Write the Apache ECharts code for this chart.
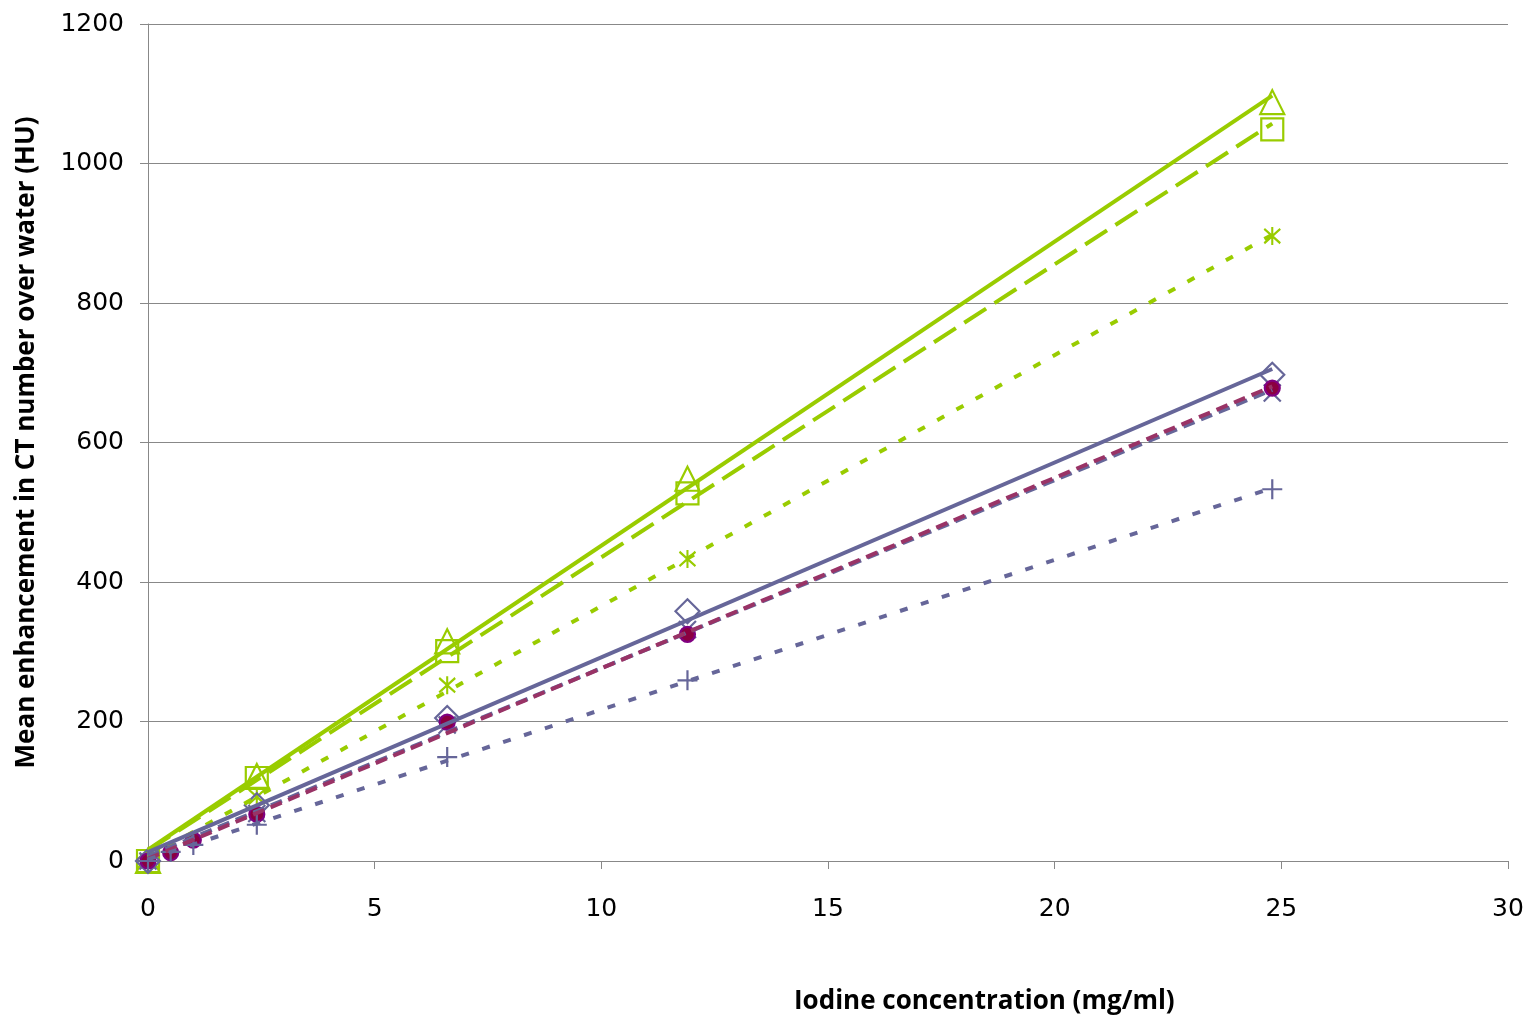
<!DOCTYPE html>
<html>
<head>
<meta charset="utf-8">
<script src="https://cdn.jsdelivr.net/npm/echarts@6/dist/echarts.min.js"></script>
<style>
html,body{margin:0;padding:0;background:#fff;}
#chart{width:1528px;height:1024px;}
</style>
</head>
<body>
<div id="chart"></div>
<script>
// Iodine concentrations (mg/ml)
const conc = [0, 2.4, 6.6, 11.9, 24.8];
const concFine = [0, 0.5, 1, 2.4, 6.6, 11.9, 24.8];
// Green series
const triangleVals = [0, 122, 315, 548, 1088];
const squareVals = [0, 119, 301, 527, 1049];
const asteriskVals = [0, 92, 252, 433, 896];
// Purple / maroon series
const diamondVals = [0, 80, 205, 358, 697];
const crossVals = [0, 68, 195, 332, 671];
const circleVals = [0, 12, 30, 67, 199, 325, 678];
const plusVals = [0, 13, 23, 52, 149, 259, 533];

const xTicks = [0, 5, 10, 15, 20, 25, 30];
const yTicks = [0, 200, 400, 600, 800, 1000, 1200];

const GREEN = '#99CC00';
const PURPLE = '#666699';
const MAROON = '#993366';

function fit(xs, ys) {
  const n = xs.length;
  let sx = 0, sy = 0, sxx = 0, sxy = 0;
  for (let i = 0; i < n; i++) { sx += xs[i]; sy += ys[i]; sxx += xs[i] * xs[i]; sxy += xs[i] * ys[i]; }
  const a = (n * sxy - sx * sy) / (n * sxx - sx * sx);
  const b = (sy - a * sx) / n;
  const x0 = Math.min(...xs), x1 = Math.max(...xs);
  return [[x0, a * x0 + b], [x1, a * x1 + b]];
}
function pts(xs, ys) { return xs.map((x, i) => [x, ys[i]]); }

const P_AST = 'path://M0,-10L0,10M-8,-8L8,8M-8,8L8,-8';
const P_X = 'path://M-10,-10L10,10M-10,10L10,-10';
const P_PLUS = 'path://M-10,0L10,0M0,-10L0,10';

function markers(name, xs, ys, symbol, size, color, fill) {
  return {
    name, type: 'scatter', data: pts(xs, ys), symbol, symbolSize: size, z: 3,
    itemStyle: { color: fill || 'transparent', borderColor: color, borderWidth: 2.2, opacity: 1 }
  };
}
function trend(name, xs, ys, color, dash) {
  return {
    name: name + ' trend', type: 'line', data: fit(xs, ys), showSymbol: false, z: 4,
    lineStyle: { color, width: 4, type: dash, cap: 'butt' }, silent: true
  };
}

const chart = echarts.init(document.getElementById('chart'));
chart.setOption({
  animation: false,
  backgroundColor: '#fff',
  grid: { left: 148, right: 20, top: 24, bottom: 163 },
  xAxis: {
    type: 'value', min: 0, max: 30, interval: 5,
    axisLine: { show: true, onZero: false, lineStyle: { color: '#888', width: 1 } },
    axisTick: { show: true, inside: false, length: 8, lineStyle: { color: '#888' } },
    splitLine: { show: false },
    axisLabel: { margin: 36, fontSize: 25, color: '#000', fontFamily: 'DejaVu Sans',
      formatter: v => xTicks.includes(v) ? String(v) : '' }
  },
  yAxis: {
    type: 'value', min: 0, max: 1200, interval: 200,
    name: 'Mean enhancement in CT number over water (HU)',
    nameLocation: 'middle', nameGap: 108,
    nameTextStyle: { fontSize: 26, fontWeight: 'bold', color: '#000', fontFamily: 'Open Sans' },
    axisLine: { show: true, lineStyle: { color: '#888', width: 1 } },
    axisTick: { show: true, inside: false, length: 8, lineStyle: { color: '#888' } },
    splitLine: { show: true, lineStyle: { color: '#888', width: 1 } },
    axisLabel: { margin: 24, fontSize: 25, color: '#000', fontFamily: 'DejaVu Sans',
      formatter: v => yTicks.includes(v) ? String(v) : '' }
  },
  graphic: [{
    type: 'text', left: 794, top: 989,
    style: { text: 'Iodine concentration (mg/ml)', fontSize: 26, fontWeight: 'bold',
      fill: '#000', fontFamily: 'Open Sans' }
  }],
  series: [
    markers('Triangle', conc, triangleVals, 'triangle', [24, 24], GREEN),
    markers('Square', conc, squareVals, 'rect', [22, 22], GREEN),
    markers('Asterisk', conc, asteriskVals, P_AST, [16, 18], GREEN),
    markers('Diamond', conc, diamondVals, 'diamond', [24, 24], PURPLE),
    markers('Cross', conc, crossVals, P_X, [17, 17], PURPLE),
    markers('Circle', concFine, circleVals, 'circle', 15, '#800080', '#8B0040'),
    markers('Plus', concFine, plusVals, P_PLUS, [20, 20], PURPLE),
    trend('Triangle', conc, triangleVals, GREEN, 'solid'),
    trend('Square', conc, squareVals, GREEN, [26, 10]),
    trend('Asterisk', conc, asteriskVals, GREEN, [8, 14]),
    trend('Diamond', conc, diamondVals, PURPLE, 'solid'),
    trend('Cross', conc, crossVals, PURPLE, [12, 7]),
    trend('Circle', concFine, circleVals, MAROON, [12, 7]),
    trend('Plus', concFine, plusVals, PURPLE, [8, 14])
  ]
});
</script>
</body>
</html>
